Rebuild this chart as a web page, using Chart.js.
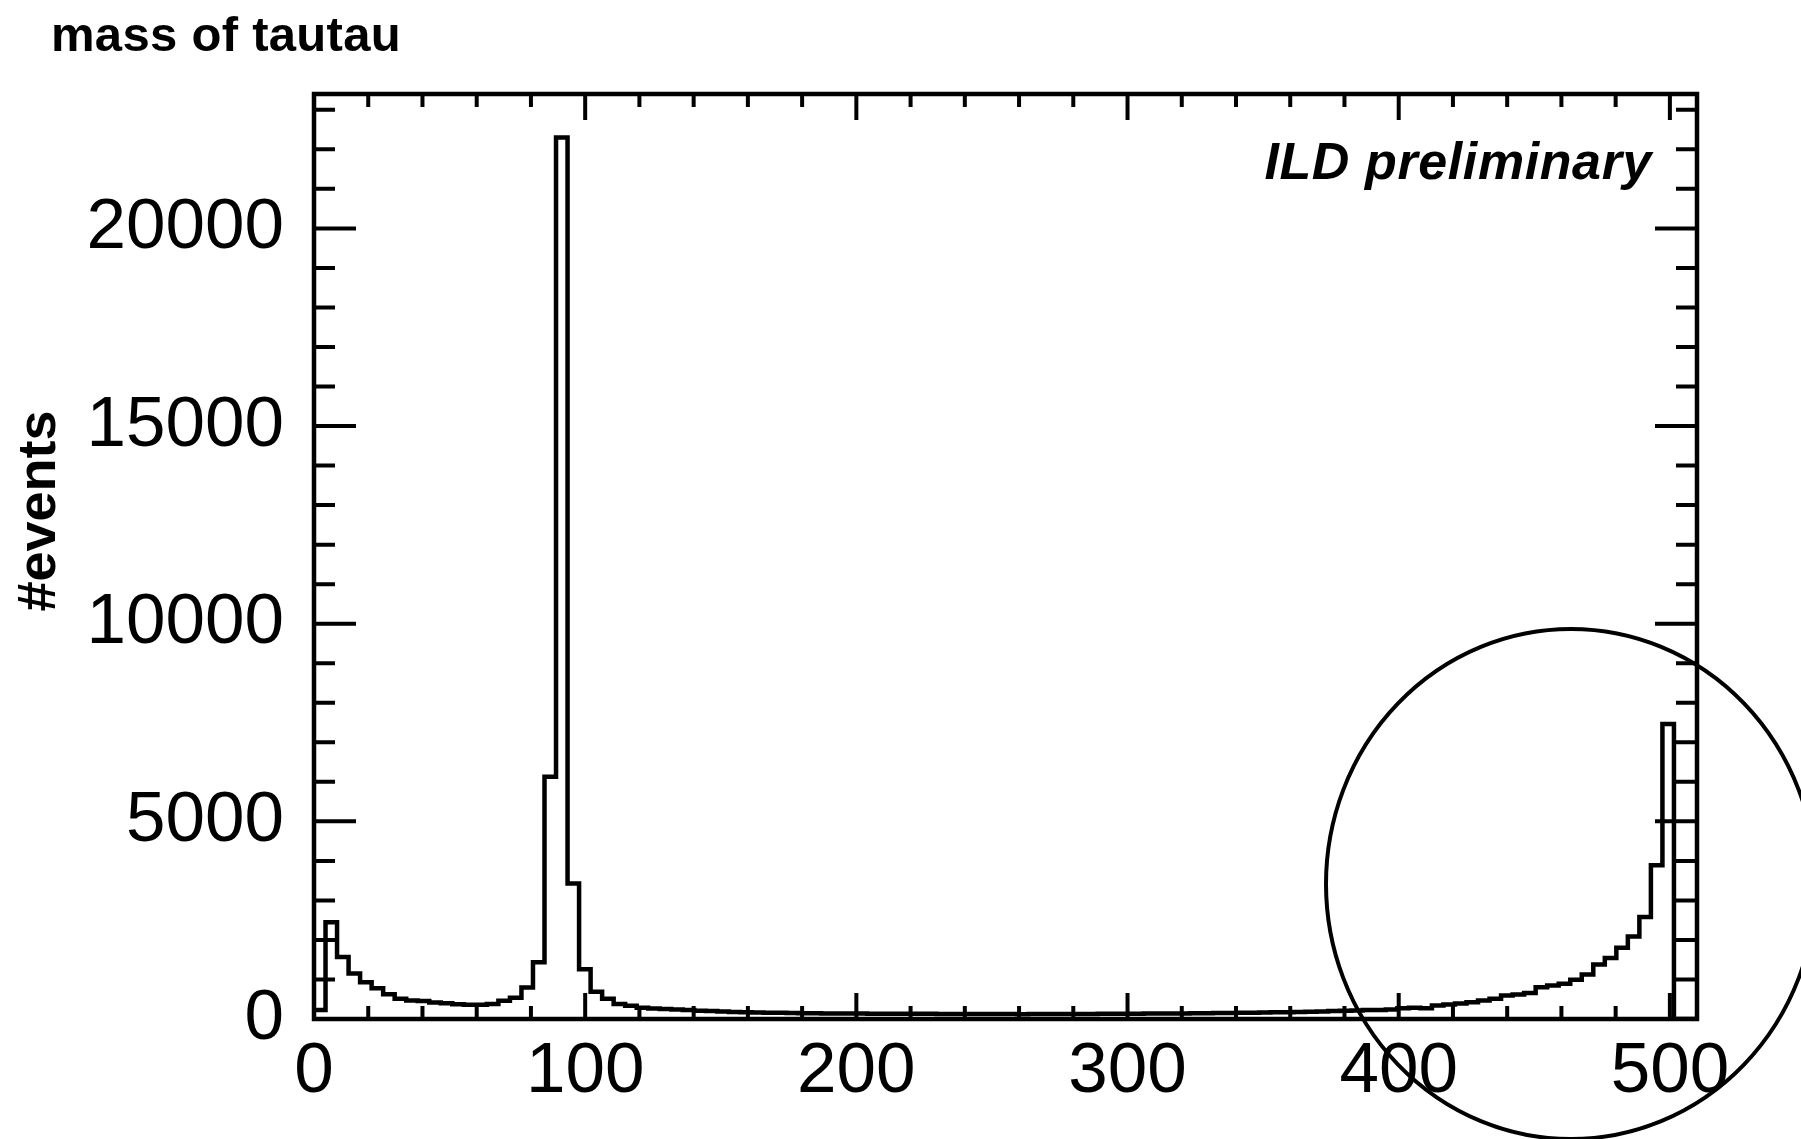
<!DOCTYPE html>
<html>
<head>
<meta charset="utf-8">
<title>mass of tautau</title>
<script src="https://cdn.jsdelivr.net/npm/chart.js@4.4.1/dist/chart.umd.min.js"></script>
<style>
  html, body { margin: 0; padding: 0; background: #fff; }
  #wrap { width: 1801px; height: 1139px; }
</style>
</head>
<body>
<div id="wrap"><canvas id="massChart" width="1801" height="1139"></canvas></div>
<script>
// histogram binning: 120 bins from 0 to 510 (lower edges + last upper edge)
const binEdges = [
  0, 4.25, 8.5, 12.75, 17, 21.25, 25.5, 29.75, 34, 38.25,
  42.5, 46.75, 51, 55.25, 59.5, 63.75, 68, 72.25, 76.5, 80.75,
  85, 89.25, 93.5, 97.75, 102, 106.25, 110.5, 114.75, 119, 123.25,
  127.5, 131.75, 136, 140.25, 144.5, 148.75, 153, 157.25, 161.5, 165.75,
  170, 174.25, 178.5, 182.75, 187, 191.25, 195.5, 199.75, 204, 208.25,
  212.5, 216.75, 221, 225.25, 229.5, 233.75, 238, 242.25, 246.5, 250.75,
  255, 259.25, 263.5, 267.75, 272, 276.25, 280.5, 284.75, 289, 293.25,
  297.5, 301.75, 306, 310.25, 314.5, 318.75, 323, 327.25, 331.5, 335.75,
  340, 344.25, 348.5, 352.75, 357, 361.25, 365.5, 369.75, 374, 378.25,
  382.5, 386.75, 391, 395.25, 399.5, 403.75, 408, 412.25, 416.5, 420.75,
  425, 429.25, 433.5, 437.75, 442, 446.25, 450.5, 454.75, 459, 463.25,
  467.5, 471.75, 476, 480.25, 484.5, 488.75, 493, 497.25, 501.5, 505.75,
  510
];

// #events per bin
const eventCounts = [
  230, 2450, 1570, 1150, 930, 775, 625, 515, 470, 455,
  420, 400, 375, 360, 360, 380, 460, 540, 795, 1435,
  6130, 22300, 3430, 1260, 690, 510, 380, 335, 285, 265,
  250, 240, 225, 210, 200, 190, 180, 172, 165, 160,
  155, 150, 148, 145, 142, 140, 138, 136, 135, 134,
  133, 132, 130, 130, 128, 128, 126, 125, 125, 124,
  124, 123, 124, 125, 124, 126, 127, 128, 130, 131,
  133, 135, 136, 138, 140, 142, 145, 147, 150, 153,
  156, 160, 164, 168, 172, 178, 185, 192, 200, 210,
  215, 225, 230, 240, 270, 285, 270, 340, 365, 390,
  425, 465, 510, 595, 620, 655, 805, 845, 890, 990,
  1125, 1380, 1545, 1800, 2090, 2580, 3890, 7460, 0, 0
];

const xTickLabels = [0, 100, 200, 300, 400, 500];
const yTickLabels = [0, 5000, 10000, 15000, 20000];

const plotTitle = 'mass of tautau';
const yTitle = '#events';
const stampText = 'ILD preliminary';

const xMax = 510;
const yMax = 23400;

const FONT = '"Liberation Sans", Helvetica, Arial, sans-serif';

// bin lower edges -> step line; last edge repeats the last bin
const histPoints = binEdges.map((e, i) => ({
  x: e,
  y: i < eventCounts.length ? eventCounts[i] : eventCounts[eventCounts.length - 1]
}));

const frameAndMarks = {
  id: 'frameAndMarks',
  afterDraw(chart) {
    const ctx = chart.ctx;
    const a = chart.chartArea;
    const xs = chart.scales.x;
    const ys = chart.scales.y;
    ctx.save();
    ctx.strokeStyle = '#000';
    ctx.lineCap = 'butt';

    // ticks, pointing inward on all four sides
    ctx.lineWidth = 4;
    ctx.beginPath();
    for (let v = 0; v <= 500; v += 20) {
      const px = xs.getPixelForValue(v);
      const len = v % 100 === 0 ? 26 : 13;
      ctx.moveTo(px, a.bottom); ctx.lineTo(px, a.bottom - len);
      ctx.moveTo(px, a.top); ctx.lineTo(px, a.top + len);
    }
    for (let v = 0; v <= 23000; v += 1000) {
      const py = ys.getPixelForValue(v);
      const len = v % 5000 === 0 ? 42 : 21;
      ctx.moveTo(a.left, py); ctx.lineTo(a.left + len, py);
      ctx.moveTo(a.right, py); ctx.lineTo(a.right - len, py);
    }
    ctx.stroke();

    // frame
    ctx.lineWidth = 4.5;
    ctx.strokeRect(a.left, a.top, a.right - a.left, a.bottom - a.top);

    // texts
    ctx.fillStyle = '#000';
    ctx.textBaseline = 'alphabetic';
    ctx.font = 'bold 49px ' + FONT;
    ctx.letterSpacing = '0.3px';
    ctx.textAlign = 'left';
    ctx.fillText(plotTitle, 51, 51);

    ctx.font = 'italic bold 52px ' + FONT;
    ctx.letterSpacing = '0.6px';
    ctx.textAlign = 'right';
    ctx.fillText(stampText, 1652, 179);

    ctx.save();
    ctx.translate(55, 511);
    ctx.rotate(-Math.PI / 2);
    ctx.font = 'bold 54px ' + FONT;
    ctx.letterSpacing = '0px';
    ctx.textAlign = 'center';
    ctx.textBaseline = 'alphabetic';
    ctx.fillText(yTitle, 0, 0);
    ctx.restore();

    // hand-drawn circle highlighting the high-mass edge
    ctx.letterSpacing = '0px';
    ctx.lineWidth = 4;
    ctx.beginPath();
    ctx.ellipse(1571, 884, 245, 255, 0, 0, Math.PI * 2);
    ctx.stroke();
    ctx.restore();
  }
};

new Chart(document.getElementById('massChart'), {
  type: 'line',
  data: {
    datasets: [{
      label: plotTitle,
      data: histPoints,
      stepped: 'before',
      borderColor: '#000',
      borderWidth: 4.5,
      pointRadius: 0,
      fill: false,
      tension: 0
    }]
  },
  options: {
    responsive: false,
    animation: false,
    devicePixelRatio: 1,
    layout: { padding: { top: 94, right: 104, left: 0, bottom: 0 } },
    plugins: {
      legend: { display: false },
      tooltip: { enabled: false },
      title: { display: false }
    },
    scales: {
      x: {
        type: 'linear',
        min: 0,
        max: xMax,
        grid: { display: false, drawTicks: false },
        border: { display: false },
        afterFit(scale) { scale.height = 120; },
        afterBuildTicks(scale) { scale.ticks = xTickLabels.map(v => ({ value: v })); },
        ticks: {
          autoSkip: false,
          maxRotation: 0,
          padding: 11,
          color: '#000',
          font: { family: FONT, size: 71 },
          callback: v => String(v)
        }
      },
      y: {
        type: 'linear',
        min: 0,
        max: yMax,
        grid: { display: false, drawTicks: false },
        border: { display: false },
        afterFit(scale) { scale.width = 314; },
        afterBuildTicks(scale) { scale.ticks = yTickLabels.map(v => ({ value: v })); },
        ticks: {
          autoSkip: false,
          padding: 30,
          color: '#000',
          font: { family: FONT, size: 71 },
          callback: v => String(v)
        }
      }
    }
  },
  plugins: [frameAndMarks]
});
</script>
</body>
</html>
